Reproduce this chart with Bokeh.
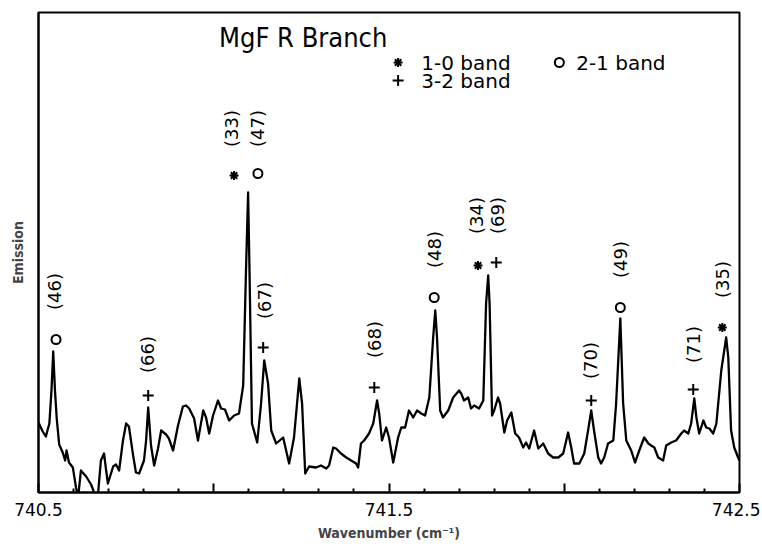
import math
from bokeh.plotting import figure
from bokeh.models import Range1d, FixedTicker, Label
from bokeh.core.properties import value
from bokeh.embed import file_html
from bokeh.resources import INLINE

# ---- spectrum ----
wavenumber = [
    740.500, 740.512, 740.521, 740.531, 740.537, 740.542, 740.547, 740.552, 740.559, 740.569, 740.576, 740.580, 740.587, 740.598, 740.607, 740.613, 740.621, 740.636, 740.650, 740.664, 740.670, 740.678, 740.687, 740.693, 740.698,
    740.713, 740.721, 740.730, 740.741, 740.750, 740.758, 740.770, 740.778, 740.787, 740.801, 740.807, 740.813, 740.821, 740.830, 740.841, 740.850, 740.864, 740.872, 740.884, 740.898, 740.912, 740.921, 740.930, 740.944, 740.955, 740.970, 740.978, 740.987, 740.998,
    741.012, 741.021, 741.032, 741.044, 741.058, 741.072, 741.084, 741.092, 741.098, 741.102, 741.109, 741.124, 741.135, 741.144, 741.155, 741.164, 741.178, 741.198, 741.215, 741.229, 741.244, 741.252, 741.261, 741.272, 741.292,
    741.306, 741.321, 741.329, 741.341, 741.349, 741.363, 741.378, 741.392, 741.406, 741.412, 741.420, 741.429, 741.443, 741.455, 741.466, 741.472, 741.480, 741.492, 741.500,
    741.512, 741.526, 741.535, 741.546, 741.557, 741.569, 741.580, 741.592, 741.603, 741.615, 741.626, 741.632, 741.637, 741.646, 741.654, 741.669, 741.683, 741.700,
    741.706, 741.714, 741.726, 741.734, 741.743, 741.757, 741.769, 741.777, 741.783, 741.787, 741.794, 741.800, 741.811, 741.817, 741.829, 741.837, 741.849, 741.860, 741.871, 741.883, 741.891, 741.900,
    741.914, 741.926, 741.940, 741.954, 741.968, 741.983, 741.997, 742.011, 742.020, 742.028, 742.043, 742.057, 742.068, 742.077, 742.085, 742.097, 742.105,
    742.114, 742.125, 742.140, 742.148, 742.160, 742.168, 742.177, 742.191, 742.202, 742.214, 742.228, 742.240, 742.248, 742.257, 742.268, 742.282, 742.291,
    742.305, 742.319, 742.334, 742.342, 742.354, 742.362, 742.371, 742.377, 742.385, 742.397, 742.405, 742.414, 742.425, 742.434, 742.448, 742.462, 742.468, 742.476, 742.485, 742.496, 742.500,
]
emission = [
    70, 61, 56, 69, 102, 141, 102, 74, 48, 40, 32, 42, 30, 25, 5, -5, 22, 16, 8, -5, -1, 32, 39, 22, 9,
    26, 28, 22, 52, 69, 66, 37, 20, 19, 32, 52, 85, 47, 27, 44, 62, 58, 54, 42, 67, 86, 87, 84, 74, 52, 82, 75, 59, 77,
    92, 84, 83, 72, 77, 79, 107, 222, 300, 222, 69, 50, 89, 132, 109, 62, 49, 55, 29, 55, 114, 89, 19, 26, 25,
    27, 24, 27, 45, 44, 39, 35, 32, 29, 25, 49, 52, 59, 69, 92, 79, 52, 65, 55,
    30, 55, 65, 65, 82, 75, 82, 79, 77, 95, 155, 182, 155, 82, 75, 82, 95, 102,
    99, 92, 95, 84, 87, 84, 92, 189, 217, 189, 77, 82, 95, 89, 60, 72, 80, 59, 55, 45, 50, 44,
    62, 44, 49, 39, 35, 35, 39, 60, 45, 29, 29, 39, 62, 82, 62, 35, 29,
    35, 49, 52, 89, 174, 89, 52, 42, 30, 42, 55, 49, 47, 45, 35, 32, 47,
    50, 52, 59, 62, 59, 69, 94, 75, 59, 72, 65, 64, 59, 69, 122, 155, 135, 62, 45, 35, 32,
]

# ---- line assignments ----
mark_band = ["2-1", "3-2", "1-0", "2-1", "3-2", "3-2", "2-1", "1-0", "3-2", "3-2", "2-1", "3-2", "1-0"]
mark_x = [740.550, 740.813, 741.058, 741.126, 741.141, 741.458, 741.629, 741.754, 741.806, 742.077, 742.160, 742.368, 742.451]
mark_y = [153, 97, 317, 319, 145, 105, 195, 227, 230, 92, 185, 103, 165]
label_text = ["(46)", "(66)", "(33)", "(47)", "(67)", "(68)", "(48)", "(34)", "(69)", "(70)", "(49)", "(71)", "(35)"]
label_x = [740.547, 740.810, 741.052, 741.126, 741.144, 741.460, 741.629, 741.751, 741.809, 742.074, 742.160, 742.368, 742.451]
label_y = [201, 138, 364, 364, 192, 153, 243, 277, 277, 132, 233, 148, 213]

# ---- key ----
legend_band = ["1-0", "2-1", "3-2"]
legend_text = ["1-0 band", "2-1 band", "3-2 band"]
legend_mx = [741.526, 741.986, 741.526]
legend_tx = [741.592, 742.034, 741.592]
legend_y = [430, 430, 412]

tick_values = [740.5, 741.0, 741.5, 742.0, 742.5]
minor_values = [740.6, 740.7, 740.8, 740.9, 741.1, 741.2, 741.3, 741.4,
                741.6, 741.7, 741.8, 741.9, 742.1, 742.2, 742.3, 742.4]

marker_for = {"1-0": "asterisk", "2-1": "circle", "3-2": "cross"}
size_for = {"1-0": 9, "2-1": 9, "3-2": 11}

p = figure(width=760, height=545, output_backend="svg", toolbar_location=None,
           x_range=Range1d(740.5, 742.5), y_range=Range1d(0, 480),
           min_border_left=38, min_border_right=21, min_border_top=12, min_border_bottom=53)
p.grid.visible = False
p.background_fill_color = "white"
p.border_fill_color = "white"
p.outline_line_color = "black"
p.outline_line_width = 2

xa = p.xaxis[0]
xa.ticker = FixedTicker(ticks=tick_values, minor_ticks=minor_values)
xa.major_label_overrides = {741.0: "", 742.0: ""}
xa.major_tick_in = 9
xa.major_tick_out = 0
xa.minor_tick_in = 4
xa.minor_tick_out = 0
xa.major_tick_line_width = 2
xa.minor_tick_line_width = 2
xa.axis_line_width = 2
xa.major_label_standoff = 10
xa.major_label_text_font = "DejaVu Sans"
xa.major_label_text_font_size = "17px"
xa.major_label_text_color = "black"
xa.axis_label = "Wavenumber (cm⁻¹)"
xa.axis_label_standoff = 6
xa.axis_label_text_font = "DejaVu Sans Condensed"
xa.axis_label_text_font_style = "bold"
xa.axis_label_text_font_size = "14px"

ya = p.yaxis[0]
ya.ticker = FixedTicker(ticks=[])
ya.axis_line_width = 2
ya.major_tick_line_color = None
ya.minor_tick_line_color = None
ya.axis_label = "Emission"
ya.axis_label_standoff = 13
ya.axis_label_text_font = "DejaVu Sans Condensed"
ya.axis_label_text_font_style = "bold"
ya.axis_label_text_font_size = "14px"

p.line(wavenumber, emission, line_color="black", line_width=2.3, line_join="round")

for band in legend_band:
    xs = [x for x, b in zip(mark_x, mark_band) if b == band]
    ys = [y for y, b in zip(mark_y, mark_band) if b == band]
    lx = [x for x, b in zip(legend_mx, legend_band) if b == band]
    ly = [y for y, b in zip(legend_y, legend_band) if b == band]
    p.scatter(xs + lx, ys + ly, marker=marker_for[band], size=size_for[band],
              line_color="black", fill_color=None, line_width=2)

p.text(x=label_x, y=label_y, text=label_text, angle=math.pi / 2,
       text_align="center", text_baseline="middle",
       text_font=value("DejaVu Sans"), text_font_size="18px", text_color="black")

p.text(x=legend_tx, y=legend_y, text=legend_text, text_align="left", text_baseline="middle",
       text_font=value("DejaVu Sans"), text_font_size="20px", text_color="black")

p.add_layout(Label(x=741.015, y=471, text="MgF R Branch", text_baseline="top",
                   text_font="DejaVu Sans Condensed", text_font_size="27px", text_color="black"))

open("out.html", "w").write(file_html(p, INLINE))
